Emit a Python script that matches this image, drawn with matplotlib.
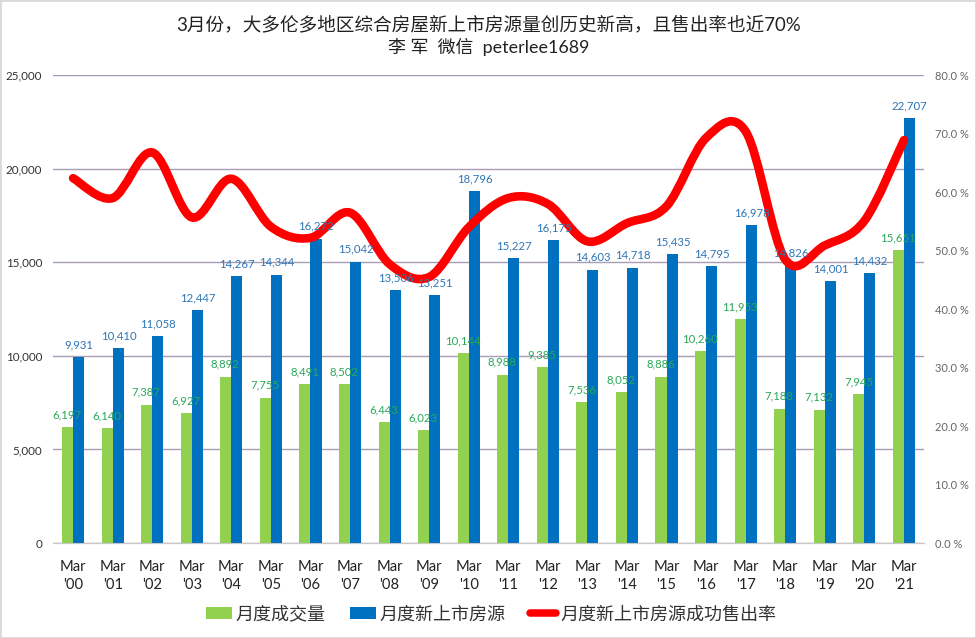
import numpy as np
import matplotlib
matplotlib.use('Agg')
import matplotlib.pyplot as plt
from matplotlib.patches import Rectangle, PathPatch
from matplotlib.path import Path
from matplotlib.ticker import FuncFormatter, MultipleLocator

plt.rcParams['font.family'] = ['Lato', 'Noto Sans CJK SC', 'DejaVu Sans']

years = ["'00", "'01", "'02", "'03", "'04", "'05", "'06", "'07", "'08", "'09", "'10",
         "'11", "'12", "'13", "'14", "'15", "'16", "'17", "'18", "'19", "'20", "'21"]
sold = [6197, 6140, 7387, 6927, 8892, 7755, 8491, 8502, 6443, 6023, 10144,
        8988, 9385, 7536, 8052, 8886, 10260, 11953, 7188, 7132, 7945, 15651]
listed = [9931, 10410, 11058, 12447, 14267, 14344, 16272, 15042, 13506, 13251, 18796,
          15227, 16175, 14603, 14718, 15435, 14795, 16978, 14826, 14001, 14432, 22707]
rate = [62.4, 59.0, 66.8, 55.7, 62.3, 54.1, 52.2, 56.5, 47.7, 45.5, 54.0,
        59.0, 58.0, 51.6, 54.7, 57.6, 69.3, 70.4, 48.5, 50.9, 55.1, 68.9]
title = '3月份，大多伦多地区综合房屋新上市房源量创历史新高，且售出率也近70%\n李 军  微信  peterlee1689'
sold_name = '月度成交量'
listed_name = '月度新上市房源'
rate_name = '月度新上市房源成功售出率'

GREEN = '#92D050'
BLUE = '#0070C0'
RED = '#FF0000'
W, H = 976, 638

fig = plt.figure(figsize=(W / 100, H / 100), dpi=100, facecolor='white')
ax = fig.add_axes([53.3 / W, 1 - 543 / H, 870.4 / W, 467.7 / H])
ax2 = ax.twinx()
ax2.set_position(ax.get_position())

x = np.arange(len(years))
bw = 0.28
ax.bar(x - bw / 2, sold, bw, color=GREEN, zorder=3, label=sold_name)
ax.bar(x + bw / 2, listed, bw, color=BLUE, zorder=3, label=listed_name)

ax.set_xlim(-0.5, len(years) - 0.5)
ax.set_ylim(0, 25000)
ax2.set_ylim(0, 80)
ax.yaxis.set_major_locator(MultipleLocator(5000))
ax2.yaxis.set_major_locator(MultipleLocator(10))
ax.yaxis.set_major_formatter(FuncFormatter(lambda v, _: f'{int(v):,}'))
ax2.yaxis.set_major_formatter(FuncFormatter(lambda v, _: f'{v:.1f} %'))
ax.set_xticks(x)
ax.set_xticklabels([f'Mar\n{y}' for y in years], fontsize=10.6, color='#222222', linespacing=1.4)
ax.tick_params(axis='x', length=0, pad=12)
ax.tick_params(axis='y', length=0, labelsize=8.4, labelcolor='#333333', pad=8)
ax2.tick_params(axis='y', length=0, labelsize=8, labelcolor='#666666', pad=8)
ax.grid(axis='y', color='#A99DB5', lw=1, zorder=1)
ax.set_axisbelow(True)
for a in (ax, ax2):
    for s in ('top', 'left', 'right'):
        a.spines[s].set_visible(False)
    a.spines['bottom'].set_color('#C8C8C8')
ax.patch.set_visible(False)

# Excel-style smoothed line: cubic Bezier through each yearly value
r = np.array(rate, dtype=float)
verts = [(x[0], r[0])]
codes = [Path.MOVETO]
for i in range(len(r) - 1):
    p0 = r[max(i - 1, 0)]
    p3 = r[min(i + 2, len(r) - 1)]
    dx0 = x[i + 1] - x[max(i - 1, 0)]
    dx1 = x[min(i + 2, len(r) - 1)] - x[i]
    verts += [(x[i] + dx0 / 6, r[i] + (r[i + 1] - p0) / 6),
              (x[i + 1] - dx1 / 6, r[i + 1] - (p3 - r[i]) / 6),
              (x[i + 1], r[i + 1])]
    codes += [Path.CURVE4] * 3
ax2.add_patch(PathPatch(Path(verts, codes), fc='none', ec=RED, lw=6.2, capstyle='round', zorder=4))
rate_handle = plt.Line2D([], [], color=RED, lw=5.4, solid_capstyle='round', label=rate_name)

for xi, s, l in zip(x, sold, listed):
    ax2.text(xi - bw / 2 - 0.01, s / 25000 * 80 + 1.2, f'{s:,}', ha='center', va='bottom',
             fontsize=8.2, color='#2AA85A', zorder=6)
    ax2.text(xi + bw / 2 + 0.01, l / 25000 * 80 + 1.2, f'{l:,}', ha='center', va='bottom',
             fontsize=8.2, color='#2E75B6', zorder=6)

lines = title.split('\n')
fig.text(489 / W, 1 - 24 / H, lines[0], ha='center', va='center', fontsize=13.4, color='#222222')
fig.text(489 / W, 1 - 47 / H, lines[1], ha='center', va='center', fontsize=12.9, color='#222222')

h, l = ax.get_legend_handles_labels()
fig.legend(h + [rate_handle], l + [rate_name], loc='center', bbox_to_anchor=(491 / W, 1 - 614 / H), ncol=3,
           frameon=False, fontsize=13, handlelength=1.45, handleheight=0.6,
           handletextpad=0.2, columnspacing=1.35, labelcolor='#333333')

fig.add_artist(Rectangle((0, 0), 1, 1, transform=fig.transFigure, fill=False, ec='#D9D9D9', lw=2))
fig.savefig('out.png', dpi=100)
